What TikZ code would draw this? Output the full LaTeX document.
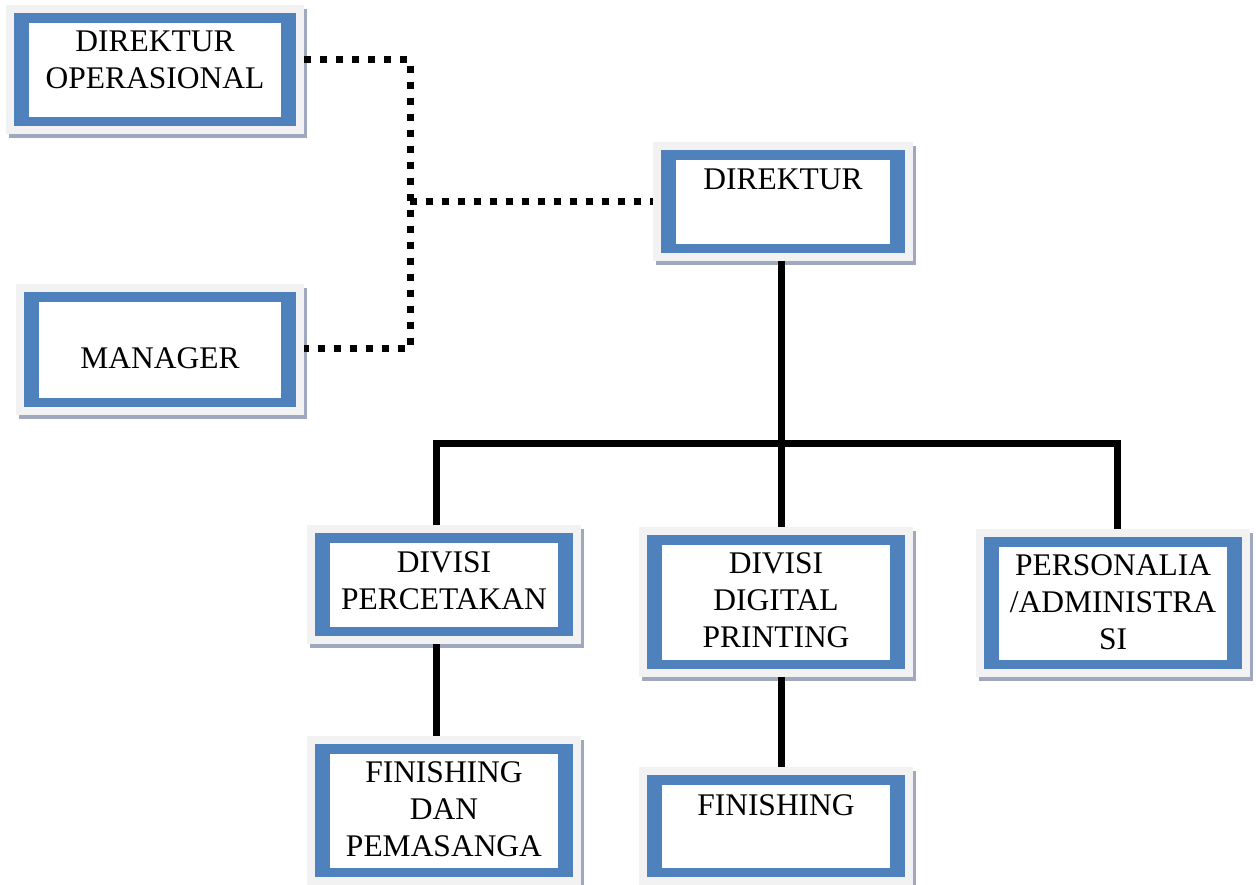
\documentclass[tikz,border=0pt]{standalone}
\usepackage{fontspec}
\setmainfont{Liberation Serif}
\usetikzlibrary{calc}
\definecolor{bluec}{RGB}{79,129,189}
\definecolor{grayc}{RGB}{242,242,242}
\definecolor{shadowc}{RGB}{160,168,192}
\tikzset{
  grayrect/.style={rectangle, fill=grayc, draw=none, inner sep=0pt, outer sep=0pt},
  lbl/.style={anchor=base, inner sep=0pt, font=\fontsize{31.5}{37}\selectfont},
  dotline/.style={line width=7pt, dash pattern=on 7pt off 9pt, line cap=butt},
  solidline/.style={line width=7pt, line cap=butt}
}
\newcommand\orgbox[5]{%
  \fill[shadowc] (#2-5,#3-4) rectangle (#4+11,#5+12);
  \node[grayrect, minimum width=#4-#2+16, minimum height=#5-#3+16, anchor=north west] (#1) at (#2-8,#3-8) {};
  \fill[bluec] (#2,#3) rectangle (#4,#5);
  \fill[white] (#2+15,#3+10) rectangle (#4-15,#5-9);
}
\newcommand\boxlines[1]{\parbox[t]{300pt}{\centering #1}}
\begin{document}
\begin{tikzpicture}[x=1pt,y=-1pt]
\useasboundingbox (0,0) rectangle (1256,885);
% boxes
\orgbox{dirop}{14}{13}{296}{126}
\orgbox{dir}{661}{150}{905}{253}
\orgbox{man}{24}{292}{296}{407}
\orgbox{perc}{315}{533}{573}{636}
\orgbox{dig}{647}{535}{905}{669}
\orgbox{pers}{984}{537}{1242}{669}
\orgbox{fina}{315}{744}{573}{877}
\orgbox{finb}{647}{775}{905}{877}
% texts
\node[lbl] (t-dirop) at (155,52) {\boxlines{DIREKTUR\\OPERASIONAL}};
\node[lbl] (t-dir) at (783,190) {\boxlines{DIREKTUR}};
\node[lbl] (t-man) at (160,368) {\boxlines{MANAGER}};
\node[lbl] (t-perc) at (444,572) {\boxlines{DIVISI\\PERCETAKAN}};
\node[lbl] (t-dig) at (776,573) {\boxlines{DIVISI\\DIGITAL\\PRINTING}};
\node[lbl] (t-pers) at (1113,575) {\boxlines{PERSONALIA\\/ADMINISTRA\\SI}};
\node[lbl] (t-fina) at (444,782) {\boxlines{FINISHING\\DAN\\PEMASANGA}};
\node[lbl] (t-finb) at (776,815) {\boxlines{FINISHING}};
% dotted connectors
\coordinate (j1) at (410,60);
\coordinate (j2) at (410,349);
\coordinate (j3) at (410,202);
\draw[dotline] (dirop.east |- j1) -- (j1) -- (j2) -- (man.east |- j2);
\draw[dotline] (j3) -- (dir.west |- j3);
% solid connectors
\coordinate (h1) at (436,443);
\coordinate (h2) at (1117,443);
\coordinate (hc) at (781,443);
\draw[solidline] (dir.south -| hc) -- (dig.north -| hc);
\draw[solidline] (perc.north -| h1) -- (h1) -- (h2) -- (pers.north -| h2);
\draw[solidline] (perc.south -| h1) -- (fina.north -| h1);
\draw[solidline] (dig.south -| hc) -- (finb.north -| hc);
\end{tikzpicture}
\end{document}
